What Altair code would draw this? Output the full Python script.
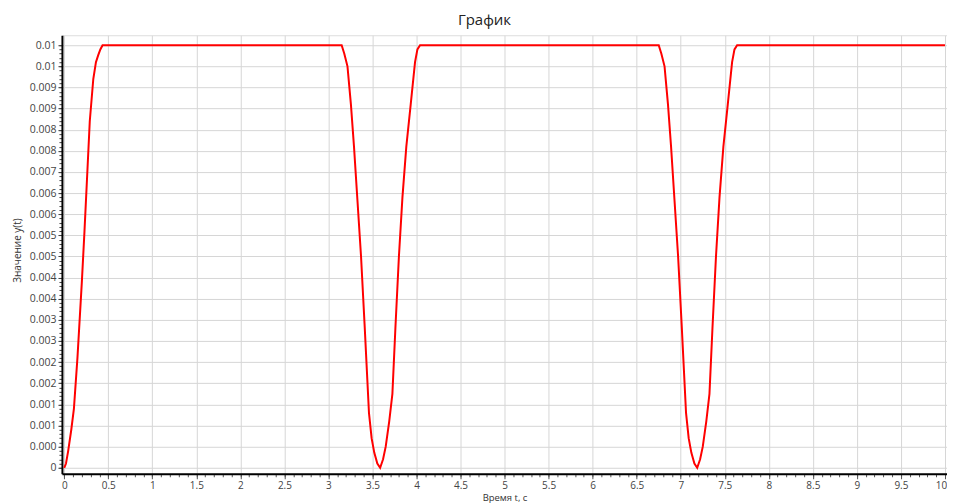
import altair as alt
import pandas as pd

# --- data ---
t_rise = [0.0, 0.02, 0.045, 0.08, 0.11, 0.15, 0.2, 0.23, 0.26, 0.29, 0.33, 0.36, 0.385, 0.41, 0.435]
y_rise = [0.0, 0.0001, 0.0004, 0.0009, 0.0014, 0.0026, 0.0044, 0.0056, 0.0069, 0.0082, 0.0092, 0.0096, 0.00976, 0.0099, 0.01]

t_dip1 = [3.15, 3.18, 3.216, 3.255, 3.29, 3.33, 3.37, 3.41, 3.46, 3.49, 3.52, 3.555, 3.587,
          3.62, 3.65, 3.69, 3.726, 3.76, 3.80, 3.84, 3.884, 3.934, 3.983, 4.01, 4.04]
y_dip1 = [0.01, 0.0098, 0.0095, 0.0086, 0.0076, 0.0063, 0.005, 0.0034, 0.0013, 0.0007, 0.00036, 0.0001, 0.0,
          0.0002, 0.0005, 0.0011, 0.00175, 0.0033, 0.005, 0.0064, 0.0076, 0.0086, 0.0096, 0.0099, 0.01]

t_dip2 = [6.75, 6.78, 6.816, 6.855, 6.89, 6.93, 6.97, 7.01, 7.06, 7.09, 7.12, 7.155, 7.187,
          7.22, 7.25, 7.29, 7.326, 7.36, 7.40, 7.44, 7.484, 7.534, 7.583, 7.61, 7.64]
y_dip2 = [0.01, 0.0098, 0.0095, 0.0086, 0.0076, 0.0063, 0.005, 0.0034, 0.0013, 0.0007, 0.00036, 0.0001, 0.0,
          0.0002, 0.0005, 0.0011, 0.00175, 0.0033, 0.005, 0.0064, 0.0076, 0.0086, 0.0096, 0.0099, 0.01]

t_end = [10.0]
y_end = [0.01]

x_ticks = [0, 0.5, 1, 1.5, 2, 2.5, 3, 3.5, 4, 4.5, 5, 5.5, 6, 6.5, 7, 7.5, 8, 8.5, 9, 9.5, 10]
y_ticks = [0, 0.0005, 0.001, 0.0015, 0.002, 0.0025, 0.003, 0.0035, 0.004, 0.0045, 0.005,
           0.0055, 0.006, 0.0065, 0.007, 0.0075, 0.008, 0.0085, 0.009, 0.0095, 0.01]
y_labels = ["0", "0.000", "0.001", "0.001", "0.002", "0.002", "0.003", "0.003", "0.004", "0.004",
            "0.005", "0.005", "0.006", "0.006", "0.007", "0.008", "0.008", "0.009", "0.009", "0.01", "0.01"]

x_minor = [round(i * 0.1, 1) for i in range(101)]
y_minor = [round(i * 0.0001, 4) for i in range(101)]

df = pd.DataFrame({
    "t": t_rise + t_dip1 + t_dip2 + t_end,
    "y": y_rise + y_dip1 + y_dip2 + y_end,
})

FONT = "Open Sans"
label_expr = "[" + ",".join("'%s'" % s for s in y_labels) + "][round(datum.value / 0.0005)]"

xs = alt.Scale(domain=[-0.026, 10.023], nice=False, zero=False)
ys = alt.Scale(domain=[-0.000142, 0.010236], nice=False, zero=False)

minor = alt.Chart(df).mark_line(opacity=0).encode(
    x=alt.X("t:Q", scale=xs, axis=alt.Axis(
        orient="bottom", values=x_minor, labels=False, domain=False, grid=False,
        ticks=True, tickSize=3, tickColor="#555555", title=None)),
    y=alt.Y("y:Q", scale=ys, axis=alt.Axis(
        orient="left", values=y_minor, labels=False, domain=False, grid=False,
        ticks=True, tickSize=3, tickColor="#444444", title=None)),
)

main = alt.Chart(df).mark_line(color="#ff0000", strokeWidth=2, clip=True).encode(
    x=alt.X("t:Q", scale=xs, axis=alt.Axis(
        orient="bottom", values=x_ticks, format="~g", grid=True, gridColor="#d6d6d6",
        domain=True, domainColor="#000000", domainWidth=2,
        ticks=True, tickSize=5, tickColor="#555555",
        labelFont=FONT, labelFontSize=10, labelColor="#444444", labelPadding=2,
        labelOffset={"condition": {"test": "datum.value == 10", "value": -4}, "value": 0},
        title="Время t, с", titleFont=FONT, titleFontSize=9.5, titleFontWeight="normal",
        titleColor="#333333", titleX=443, titleY=23.5, titleBaseline="middle", titleAlign="center")),
    y=alt.Y("y:Q", scale=ys, axis=alt.Axis(
        orient="left", values=y_ticks, labelExpr=label_expr, grid=True, gridColor="#d6d6d6",
        domain=True, domainColor="#000000", domainWidth=2,
        ticks=True, tickSize=4, tickColor="#444444",
        labelFont=FONT, labelFontSize=10.5, labelColor="#444444", labelPadding=2,
        title="Значение y(t)", titleFont=FONT, titleFontSize=10, titleFontWeight="normal",
        titleColor="#333333", titleX=-44, titleY=215, titleBaseline="middle", titleAlign="center",
        titleAngle=270)),
)

chart = alt.layer(minor, main).resolve_axis(x="independent", y="independent").properties(
    width=886,
    height=439,
    padding={"left": 54, "top": 27, "right": 0, "bottom": 30},
    autosize=alt.AutoSizeParams(type="none"),
    title=alt.Title("График", font=FONT, fontSize=15, fontWeight="normal", color="#222222",
                    offset=7, dx=-20, anchor="middle"),
).configure_view(stroke="#a0a0a0", strokeWidth=1.5).configure(background="#ffffff")

chart.save("out.html", embed_options={"renderer": "svg", "actions": False})
